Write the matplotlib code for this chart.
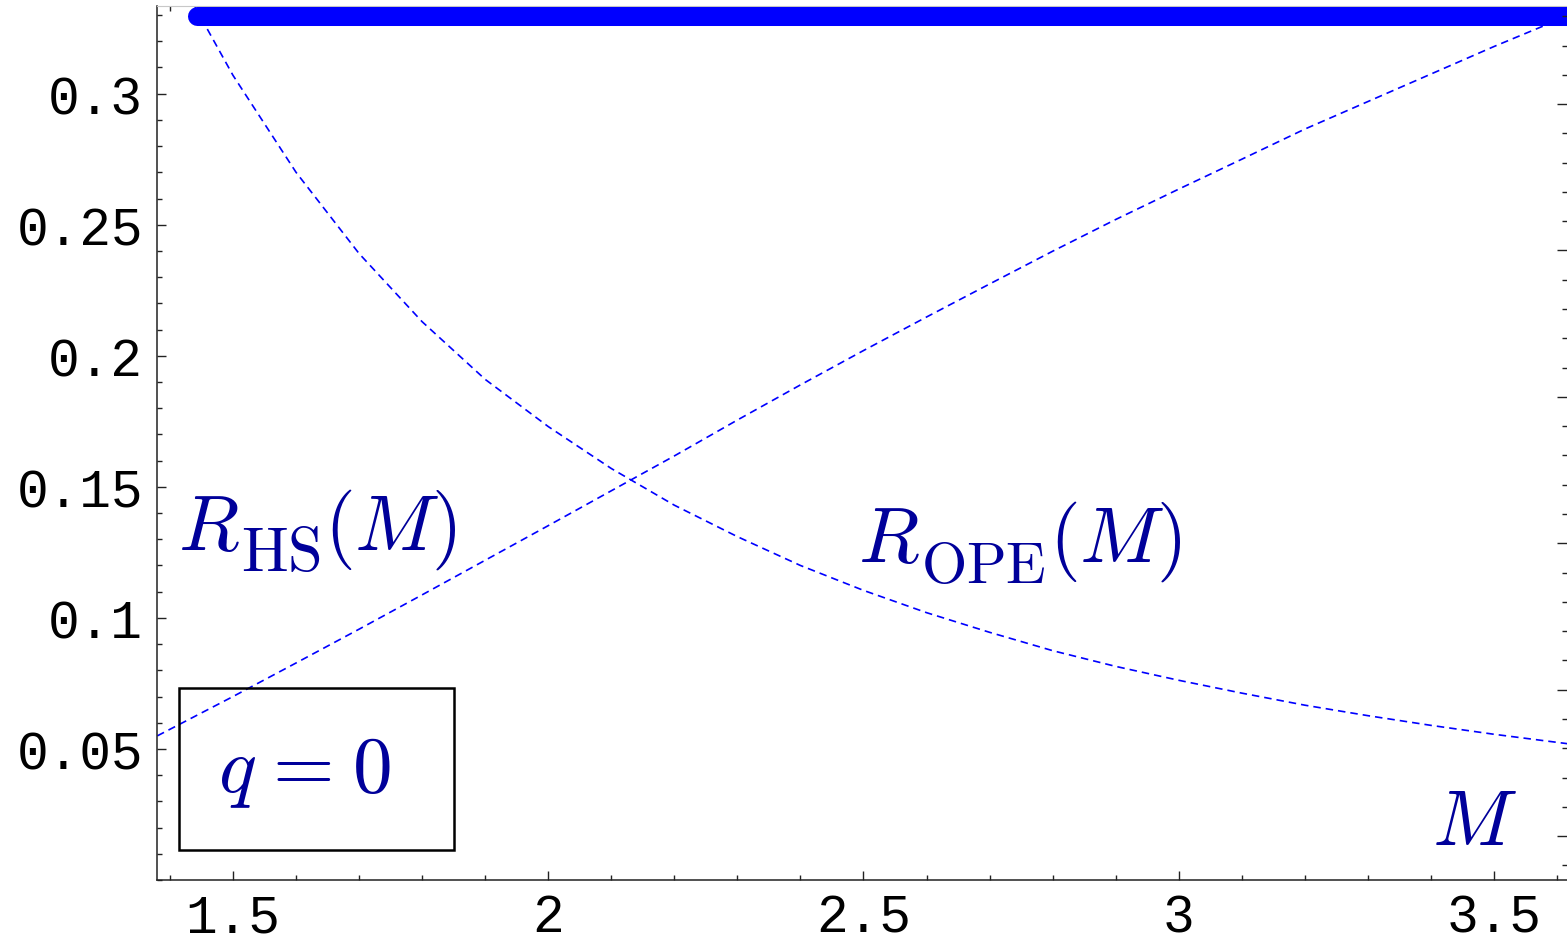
import matplotlib
matplotlib.use("Agg")
import matplotlib.pyplot as plt
from matplotlib.patches import Rectangle
from matplotlib.ticker import MultipleLocator
from matplotlib.transforms import IdentityTransform

# Ratio curves versus the Borel parameter M (q = 0)
m_ope = [1.44, 1.50, 1.60, 1.70, 1.80, 1.90, 2.00, 2.10, 2.20, 2.30, 2.40,
         2.50, 2.60, 2.70, 2.80, 2.90, 3.00, 3.10, 3.20, 3.30, 3.40, 3.50, 3.62]
r_ope = [0.333, 0.307, 0.270, 0.239, 0.213, 0.191, 0.173, 0.157, 0.143, 0.131, 0.120,
         0.1105, 0.102, 0.0945, 0.0875, 0.0815, 0.0762, 0.0713, 0.0667, 0.0627, 0.0590,
         0.0556, 0.0519]

m_hs = [1.38, 1.50, 1.60, 1.70, 1.80, 1.90, 2.00, 2.10, 2.20, 2.30, 2.40, 2.50,
        2.60, 2.70, 2.80, 2.90, 3.00, 3.10, 3.20, 3.30, 3.40, 3.50, 3.60, 3.62]
r_hs = [0.055, 0.0700, 0.0828, 0.0957, 0.1088, 0.1220, 0.1352, 0.1485, 0.1618,
        0.1755, 0.1889, 0.2020, 0.2148, 0.2274, 0.2399, 0.2520, 0.2636, 0.2750,
        0.2865, 0.2970, 0.3075, 0.3180, 0.3280, 0.3300]

# Horizontal band marking the chosen upper bound
band_m = [1.443, 3.70]
band_r = [0.3295, 0.3295]

x_major = [1.5, 2.0, 2.5, 3.0, 3.5]
x_labels = ["1.5", "2", "2.5", "3", "3.5"]
y_major = [0.05, 0.10, 0.15, 0.20, 0.25, 0.30]
y_labels = ["0.05", "0.1", "0.15", "0.2", "0.25", "0.3"]

plt.rcParams['mathtext.fontset'] = 'cm'
plt.rcParams['lines.scale_dashes'] = False

W, H = 1567, 937
fig = plt.figure(figsize=(W / 100, H / 100), dpi=100)
ax = fig.add_axes([157 / W, (H - 881) / H, (W - 157) / W, (881 - 7) / H])

curve_blue = '#0000ff'
text_blue = '#00009a'
axis_col = '#222222'

ax.plot(m_ope, r_ope, color=curve_blue, lw=1.2, dashes=(5.4, 3.6), zorder=2)
ax.plot(m_hs, r_hs, color=curve_blue, lw=1.2, dashes=(5.4, 3.6), zorder=2)
ax.plot(band_m, band_r, color=curve_blue, lw=13.7, solid_capstyle='round', zorder=3)

ax.set_xlim(1.37946, 3.6158)
ax.set_ylim(0.0, 0.33346)

ax.set_xticks(x_major)
ax.set_xticklabels(x_labels)
ax.set_yticks(y_major)
ax.set_yticklabels(y_labels)
ax.xaxis.set_minor_locator(MultipleLocator(0.1))
ax.yaxis.set_minor_locator(MultipleLocator(0.01))

for lab in ax.get_xticklabels() + ax.get_yticklabels():
    lab.set_fontfamily('Liberation Mono')
    lab.set_fontsize(38)

ax.tick_params(axis='both', which='both', direction='in', color=axis_col, width=1.0)
ax.tick_params(axis='both', which='major', length=6.5)
ax.tick_params(axis='both', which='minor', length=3.6)
ax.tick_params(axis='x', which='both', top=True, pad=9)
ax.tick_params(axis='y', which='both', right=False, pad=10)

for side in ('left', 'bottom'):
    ax.spines[side].set_color(axis_col)
    ax.spines[side].set_linewidth(1.1)
ax.spines['top'].set_color('#c8c8c8')
ax.spines['top'].set_linewidth(0.8)
ax.spines['right'].set_visible(False)

# Tick column along the right edge
axr = ax.twinx()
axr.set_ylim(0.7, 6.67)
axr.yaxis.set_major_locator(MultipleLocator(1.0))
axr.yaxis.set_minor_locator(MultipleLocator(0.2))
axr.tick_params(axis='y', which='both', direction='in', labelright=False, color=axis_col, width=1.0)
axr.tick_params(axis='y', which='major', length=7.2)
axr.tick_params(axis='y', which='minor', length=3.6)
for s in axr.spines.values():
    s.set_visible(False)

renderer = fig.canvas.get_renderer()
pix = IdentityTransform()


def ratio_label(x, y, sub, sub_size):
    """Draw R_sub(M) with a large upright subscript, piece by piece."""
    base = ax.text(x, y, r'$R$', color=text_blue, fontsize=57,
                   ha='left', va='baseline', zorder=4)
    x1 = base.get_window_extent(renderer).x1
    _, y_disp = ax.transData.transform((x, y))
    s = fig.text(x1 + 1, y_disp - 21, r'$\mathrm{' + sub + '}$', color=text_blue,
                 fontsize=sub_size, ha='left', va='baseline', transform=pix, zorder=4)
    x2 = s.get_window_extent(renderer).x1
    fig.text(x2 + 3, y_disp, r'$(M)$', color=text_blue, fontsize=57,
             ha='left', va='baseline', transform=pix, zorder=4)


ratio_label(1.413, 0.1263, 'HS', 45)
ratio_label(2.4913, 0.1217, 'OPE', 42)

ax.text(3.4017, 0.0137, r'$M$', color=text_blue, fontsize=57,
        ha='left', va='baseline', zorder=4)

# Boxed parameter label
ax.add_patch(Rectangle((1.4144, 0.01145), 1.8506 - 1.4144, 0.0733 - 0.01145,
                       fill=False, edgecolor='black', lw=1.8, zorder=4))
ax.text(1.476, 0.0340, r'$q\hspace{0.07}=\hspace{0.07}0$', color=text_blue, fontsize=57,
        ha='left', va='baseline', zorder=4)

fig.savefig('out.png', dpi=100)
